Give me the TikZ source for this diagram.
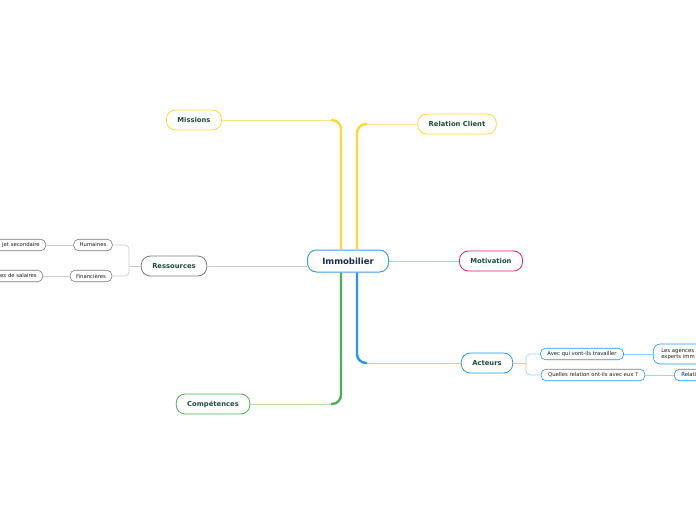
\documentclass[tikz,border=0pt]{standalone}
\usepackage{fontspec}
\setmainfont{DejaVu Sans}
\usetikzlibrary{positioning}

\definecolor{mapyellow}{HTML}{FDD835}
\definecolor{mapyellowl}{HTML}{FCE48A}
\definecolor{mapgreen}{HTML}{4CAF50}
\definecolor{mapgreenl}{HTML}{B5DDAE}
\definecolor{mapblue}{HTML}{2196F3}
\definecolor{mapbluel}{HTML}{A3D1F8}
\definecolor{mappink}{HTML}{E91E63}
\definecolor{mappinkl}{HTML}{F5B3CA}
\definecolor{mapgray}{HTML}{7A7A7A}
\definecolor{mapgrayl}{HTML}{CCCCCC}
\definecolor{maptext}{HTML}{1E4D3B}
\definecolor{maproot}{HTML}{1B2A4E}
\definecolor{maprootb}{HTML}{4A9BE0}

\begin{document}
\begin{tikzpicture}[
	x=1pt, y=-1pt,
	root/.style={draw=maprootb, line width=1pt, fill=white, rounded corners=9pt, minimum width=81pt, minimum height=22pt, font=\fontsize{8.5}{10}\selectfont\bfseries, text=maproot},
	topic/.style={draw, line width=0.8pt, fill=white, rounded corners=9pt, minimum height=20pt, inner xsep=11pt, font=\fontsize{6.8}{8}\selectfont\bfseries, text=maptext},
	sub/.style={draw, line width=0.6pt, fill=white, rounded corners=5pt, minimum height=11.5pt, inner xsep=7pt, inner ysep=1pt, font=\fontsize{5.3}{6.2}\selectfont, text=black!90},
	trunk/.style={line width=2.4pt, rounded corners=9pt},
	branch/.style={line width=0.9pt},
	twig/.style={line width=0.7pt, rounded corners=4pt}
	]
	\clip (0,0) rectangle (696,520);
	\fill[white] (0,0) rectangle (696,520);

	% --- noeud central et sujets principaux ---
	\node[root] (immo) at (348,261) {Immobilier};
	\node[topic, draw=mapyellow] (missions) at (194,120) {Missions};
	\node[topic, draw=mapyellow] (client) at (457,124) {Relation Client};
	\node[topic, draw=mappink] (motiv) at (491,261) {Motivation};
	\node[topic, draw=mapblue] (acteurs) at (487,363) {Acteurs};
	\node[topic, draw=mapgreen] (comp) at (213,404) {Compétences};
	\node[topic, draw=mapgray] (ress) at (174,266) {Ressources};

	% --- sous-sujets ---
	\node[sub, draw=mapgray, inner xsep=6pt] (hum) at (93,245) {Humaines};
	\node[sub, draw=mapgray, inner xsep=6pt] (fin) at (91,276) {Financières};
	\node[sub, draw=mapgray, anchor=east, text width=60pt, align=right, inner xsep=6pt] (sujet) at (46,245) {jet secondaire};
	\node[sub, draw=mapgray, anchor=east, text width=60pt, align=right, inner xsep=6pt] (salaires) at (43,276) {es de salaires};
	\node[sub, draw=mapblue] (avec) at (582,354) {Avec qui vont-ils travailler};
	\node[sub, draw=mapblue] (quelles) at (593,375) {Quelles relation ont-ils avec eux ?};
	\node[sub, draw=mapblue, anchor=west, text width=60pt, align=left, inner xsep=8pt, minimum height=20pt, rounded corners=7pt] (agences) at (653,354) {Les agences\\experts imm};
	\node[sub, draw=mapblue, anchor=west, text width=40pt, align=left] (relati) at (674,375) {Relati};

	% --- branches ---
	\coordinate (yl) at (341,0);
	\coordinate (yr) at (357,0);
	\draw[trunk, mapyellow] (immo.north -| yl) -- (yl |- missions) -- ++(-10,0) coordinate (ml);
	\draw[branch, mapyellowl] (ml) -- (missions.east);
	\draw[trunk, mapyellow] (immo.north -| yr) -- (yr |- client) -- ++(10,0) coordinate (cl);
	\draw[branch, mapyellowl] (cl) -- (client.west);
	\draw[trunk, mapgreen] (immo.south -| yl) -- (yl |- comp) -- ++(-10,0) coordinate (gl);
	\draw[branch, mapgreenl] (gl) -- (comp.east);
	\draw[trunk, mapblue] (immo.south -| yr) -- (yr |- acteurs) -- ++(10,0) coordinate (al);
	\draw[branch, mapbluel] (al) -- (acteurs.west);
	\draw[branch, mappinkl] (immo.east) -- (motiv.west);
	\draw[branch, mapgrayl] (ress.east) -- (ress.east -| immo.west);

	% --- liens des sous-sujets ---
	\coordinate (rb) at (129,266);
	\draw[twig, mapgrayl] (ress.west) -- (rb);
	\draw[twig, mapgrayl] (rb) -- (rb |- hum) -- (hum.east);
	\draw[twig, mapgrayl] (rb) -- (rb |- fin) -- (fin.east);
	\draw[twig, mapgrayl] (hum.west) -- (sujet.east);
	\draw[twig, mapgrayl] (fin.west) -- (salaires.east);
	\coordinate (ab) at (526,363);
	\draw[twig, mapbluel] (acteurs.east) -- (ab);
	\draw[twig, mapbluel] (ab) -- (ab |- avec) -- (avec.west);
	\draw[twig, mapbluel] (ab) -- (ab |- quelles) -- (quelles.west);
	\draw[twig, mapbluel] (avec.east) -- (agences.west |- avec);
	\draw[twig, mapbluel] (quelles.east) -- (relati.west);
\end{tikzpicture}
\end{document}
